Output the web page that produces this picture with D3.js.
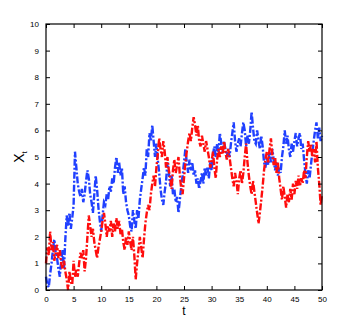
<!DOCTYPE html>
<html>
<head>
<meta charset="utf-8">
<script src="https://cdn.jsdelivr.net/npm/d3@7"></script>
<style>
  body { margin: 0; background: #fff; }
  text { font-family: "Liberation Sans", Arial, sans-serif; }
</style>
</head>
<body>
<div id="chart"></div>
<script>
// sample step of both paths (t runs 0..50)
var dt = 0.25;

// blue path X_t, every 0.25
var blueValues = [
  0.5, 0.2, 0.1, 0.6, 1.0, 1.5, 1.9, 1.4, 1.2, 0.8, 0.5, 1.1, 1.5, 0.8, 1.9, 2.8,
  2.4, 2.9, 2.3, 2.7, 3.2, 5.2, 4.6, 4.0, 3.7, 3.5, 3.8, 3.3, 3.6, 4.1, 4.5, 4.2,
  3.6, 3.3, 2.9, 3.6, 4.3, 3.8, 3.1, 2.6, 2.2, 2.8, 3.3, 3.2, 3.6, 3.4, 3.9, 3.7,
  4.2, 4.0, 4.6, 5.0, 4.4, 4.8, 4.3, 4.6, 3.6, 3.9, 3.3, 3.0, 2.8, 2.4, 2.2, 3.0,
  2.6, 2.3, 3.0, 2.7, 3.4, 3.8, 4.2, 4.6, 4.3, 5.3, 5.0, 5.9, 5.6, 6.2, 5.6, 5.0,
  5.5, 4.9, 4.4, 3.8, 3.4, 3.2, 3.7, 4.1, 4.8, 4.4, 3.9, 4.3, 3.6, 3.8, 3.3, 3.5,
  2.9, 3.4, 3.9, 4.3, 4.8, 5.3, 4.8, 4.4, 4.9, 4.5, 4.8, 4.3, 4.5, 4.0, 4.2, 3.8,
  4.1, 4.4, 4.0, 4.6, 4.3, 4.6, 4.2, 4.8, 4.5, 5.1, 5.4, 5.0, 5.5, 5.2, 5.9, 5.5,
  5.2, 5.6, 5.3, 5.0, 5.3, 5.0, 5.5, 5.9, 6.3, 5.6, 5.2, 5.5, 5.7, 5.4, 5.9, 6.3,
  6.0, 5.4, 5.8, 5.5, 6.0, 6.7, 6.1, 5.6, 5.5, 6.0, 5.6, 5.3, 5.8, 5.4, 4.8, 4.6,
  5.0, 4.7, 5.2, 4.8, 5.3, 4.9, 4.5, 4.8, 4.3, 4.6, 4.4, 5.0, 5.4, 6.0, 5.5, 5.8,
  5.3, 5.0, 5.5, 5.2, 5.6, 5.9, 5.4, 5.7, 5.9, 5.3, 5.5, 4.9, 4.4, 4.0, 4.5, 4.2,
  4.7, 5.2, 5.6, 6.0, 6.3, 5.7, 6.1, 5.6, 5.8
];

// red path X_t, same sampling
var redValues = [
  1.0, 1.6, 1.3, 2.2, 1.5, 1.8, 1.1, 1.4, 1.7, 1.2, 1.5, 1.0, 0.8, 1.1, 0.7, 0.4,
  0.0, 0.7, 0.3, 0.2, 1.1, 0.5, 0.8, 0.5, 1.0, 1.4, 1.2, 1.5, 0.7, 1.2, 2.0, 2.8,
  2.4, 2.0, 2.3, 1.8, 1.5, 1.2, 1.6, 1.9, 2.2, 2.6, 2.9, 2.5, 2.0, 2.4, 2.2, 2.6,
  2.0, 2.5, 2.2, 2.7, 2.3, 2.6, 2.1, 2.3, 1.8, 1.5, 2.0, 1.7, 2.2, 1.8, 1.5, 2.0,
  1.3, 0.4, 1.0, 1.5, 2.0, 1.6, 1.2, 1.9, 2.5, 2.9, 3.2, 3.0, 3.6, 4.0, 4.3, 3.9,
  4.6, 5.1, 5.7, 5.3, 5.0, 5.6, 5.2, 4.6, 5.0, 4.5, 4.2, 3.8, 4.5, 4.9, 4.4, 4.7,
  5.0, 4.3, 3.8, 3.6, 4.2, 4.8, 5.2, 5.6, 5.9, 5.6, 6.1, 6.5, 6.2, 5.8, 6.2, 5.6,
  5.4, 5.8, 5.5, 5.2, 5.6, 5.3, 5.0, 4.6, 4.8, 5.2, 4.6, 4.2, 4.9, 5.3, 5.0, 5.4,
  5.1, 5.6, 5.2, 4.9, 5.3, 5.0, 4.6, 4.2, 3.9, 4.4, 4.1, 3.6, 4.2, 4.5, 4.0, 4.4,
  5.0, 5.5, 4.8, 4.3, 3.9, 3.6, 4.1, 3.7, 3.3, 2.9, 2.5, 2.9, 3.4, 3.9, 4.5, 4.9,
  5.2, 4.8, 5.3, 5.7, 5.1, 4.7, 5.0, 4.4, 4.8, 4.2, 3.8, 3.4, 3.9, 3.5, 3.1, 3.6,
  3.3, 3.8, 3.4, 4.0, 3.6, 4.1, 3.8, 4.3, 3.9, 4.2, 4.0, 4.5, 4.2, 5.0, 5.6, 5.2,
  5.5, 5.0, 5.3, 4.8, 5.6, 4.6, 4.0, 3.2, 3.6
];

var xTicks = [0, 5, 10, 15, 20, 25, 30, 35, 40, 45, 50];
var yTicks = [0, 1, 2, 3, 4, 5, 6, 7, 8, 9, 10];

var W = 354, H = 327;
var margin = {top: 24, right: 32, bottom: 37, left: 46};
var width = W - margin.left - margin.right;
var height = H - margin.top - margin.bottom;

var svg = d3.select("#chart")
  .append("svg")
  .attr("width", W)
  .attr("height", H)
  .append("g")
  .attr("transform", "translate(" + margin.left + "," + margin.top + ")");

var x = d3.scaleLinear().domain([0, 50]).range([0, width]);
var y = d3.scaleLinear().domain([0, 10]).range([height, 0]);

var line = d3.line()
  .x(function(d, i) { return x(i * dt); })
  .y(function(d) { return y(d); });

// paths first, frame on top
var plot = svg.append("g");
plot.append("path")
  .datum(blueValues)
  .attr("fill", "none")
  .attr("stroke", "#2040ff")
  .attr("stroke-width", 2.4)
  .attr("stroke-dasharray", "7,2,2,2")
  .attr("d", line);
plot.append("path")
  .datum(redValues)
  .attr("fill", "none")
  .attr("stroke", "#ff0d0d")
  .attr("stroke-width", 2.4)
  .attr("stroke-dasharray", "7,2,2,2")
  .attr("d", line);

// axes, ticks pointing inward
function styleAxis(g) {
  g.select(".domain").remove();
  g.selectAll(".tick line").attr("stroke", "#000");
  g.selectAll(".tick text").attr("fill", "#000").style("font-size", "8px");
}

svg.append("g")
  .attr("transform", "translate(0," + height + ")")
  .call(d3.axisBottom(x).tickValues(xTicks).tickSizeInner(-4).tickSizeOuter(0).tickPadding(6))
  .call(styleAxis);
svg.append("g")
  .call(d3.axisTop(x).tickValues(xTicks).tickSizeInner(-4).tickSizeOuter(0).tickFormat(""))
  .call(styleAxis);
svg.append("g")
  .call(d3.axisLeft(y).tickValues(yTicks).tickSizeInner(-4).tickSizeOuter(0).tickPadding(7))
  .call(styleAxis);
svg.append("g")
  .attr("transform", "translate(" + width + ",0)")
  .call(d3.axisRight(y).tickValues(yTicks).tickSizeInner(-4).tickSizeOuter(0).tickFormat(""))
  .call(styleAxis);

svg.append("rect")
  .attr("width", width)
  .attr("height", height)
  .attr("fill", "none")
  .attr("stroke", "#000")
  .attr("stroke-width", 1.2);

// axis labels
svg.append("text")
  .attr("x", width / 2)
  .attr("y", height + 25)
  .attr("text-anchor", "middle")
  .style("font-size", "12px")
  .text("t");

var ylab = svg.append("text")
  .attr("transform", "translate(" + (-22) + "," + (height / 2) + ") rotate(-90)")
  .attr("text-anchor", "middle")
  .style("font-size", "14px");
ylab.append("tspan").text("X");
ylab.append("tspan").attr("dy", 3).style("font-size", "8px").text("t");
</script>
</body>
</html>
